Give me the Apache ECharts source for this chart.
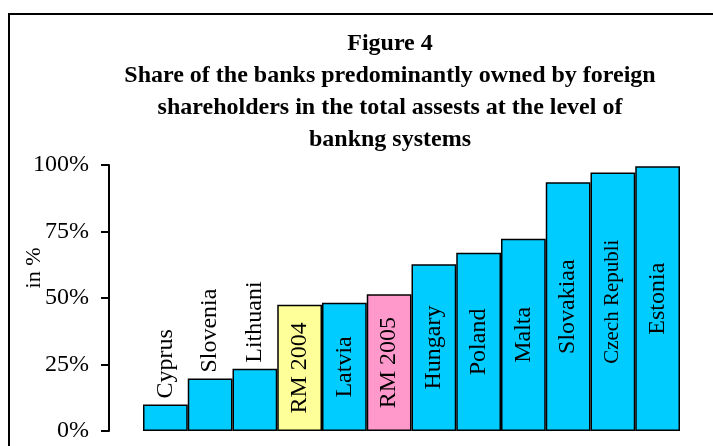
<!DOCTYPE html>
<html>
<head>
<meta charset="utf-8">
<script src="https://cdn.jsdelivr.net/npm/echarts@6/dist/echarts.min.js"></script>
<style>
  html, body { margin: 0; padding: 0; background: #ffffff; }
  #chart { width: 713px; height: 446px; }
</style>
</head>
<body>
<div id="chart"></div>
<script>
// Banking systems, ordered by the share of foreign-owned banks
const categories = ['Cyprus', 'Slovenia', 'Lithuania', 'RM 2004', 'Latvia', 'RM 2005',
  'Hungary', 'Poland', 'Malta', 'Slovakiaa', 'Czech Republic', 'Estonia'];
// Share in total assets, in %
const shares = [10.0, 19.7, 23.4, 47.5, 48.2, 51.4, 62.7, 67.0, 72.3, 93.5, 97.2, 99.5];
// Macedonian figures are highlighted
const highlight = { 'RM 2004': '#FFFF99', 'RM 2005': '#FF99CC' };
// Y axis tick values, in %
const yTicks = [0, 25, 50, 75, 100];

const SERIF = "'Times New Roman', 'Liberation Serif', serif";
const BAR_COLOR = '#00CCFF';

const data = categories.map(function (name, i) {
  const outside = shares[i] < 30;
  const item = {
    value: shares[i],
    itemStyle: { color: highlight[name] || BAR_COLOR },
    label: outside
      ? { position: 'top', distance: 6, align: 'left', verticalAlign: 'middle' }
      : { position: 'inside', align: 'center', verticalAlign: 'middle' }
  };
  if (name === 'Lithuania') {
    item.label.width = 86;
    item.label.overflow = 'truncate';
    item.label.ellipsis = '';
  }
  if (name === 'Czech Republic') {
    item.label.fontSize = 21;
    item.label.width = 127;
    item.label.overflow = 'truncate';
    item.label.ellipsis = '';
  }
  return item;
});

const chart = echarts.init(document.getElementById('chart'), null, { renderer: 'canvas' });
chart.setOption({
  animation: false,
  backgroundColor: '#ffffff',
  title: {
    text: 'Figure 4\nShare of the banks predominantly owned by foreign\nshareholders in the total assests at the level of\nbankng systems',
    left: 385,
    top: 23,
    textAlign: 'center',
    textStyle: {
      fontFamily: SERIF,
      fontWeight: 'bold',
      fontSize: 24,
      lineHeight: 32,
      color: '#000000'
    }
  },
  graphic: [{
    type: 'rect',
    z: -1,
    shape: { x: 9, y: 14, width: 740, height: 460 },
    style: { fill: 'none', stroke: '#000000', lineWidth: 2 }
  }],
  grid: { left: 143, right: 33, top: 165, bottom: 15, outerBoundsMode: 'none' },
  xAxis: {
    type: 'category',
    data: categories,
    axisLine: { show: false },
    axisTick: { show: false },
    axisLabel: { show: false },
    splitLine: { show: false }
  },
  yAxis: {
    type: 'value',
    min: yTicks[0],
    max: yTicks[yTicks.length - 1],
    interval: 25,
    offset: 34,
    name: 'in %',
    nameLocation: 'middle',
    nameGap: 64,
    nameMoveOverlap: false,
    nameTextStyle: {
      fontFamily: SERIF,
      fontSize: 22,
      color: '#000000',
      padding: [0, 0, 0, 60]
    },
    axisLine: { show: true, lineStyle: { color: '#000000', width: 2 } },
    axisTick: { show: true, inside: false, length: 8, lineStyle: { color: '#000000', width: 2 } },
    axisLabel: {
      margin: 20,
      fontFamily: SERIF,
      fontSize: 24,
      color: '#000000',
      formatter: '{value}%'
    },
    splitLine: { show: false }
  },
  series: [{
    type: 'bar',
    data: data,
    barCategoryGap: 0,
    itemStyle: { borderColor: '#000000', borderWidth: 1.5 },
    label: {
      show: true,
      rotate: 90,
      formatter: '{b}',
      fontFamily: SERIF,
      fontSize: 24,
      color: '#000000'
    }
  }]
});
</script>
</body>
</html>
